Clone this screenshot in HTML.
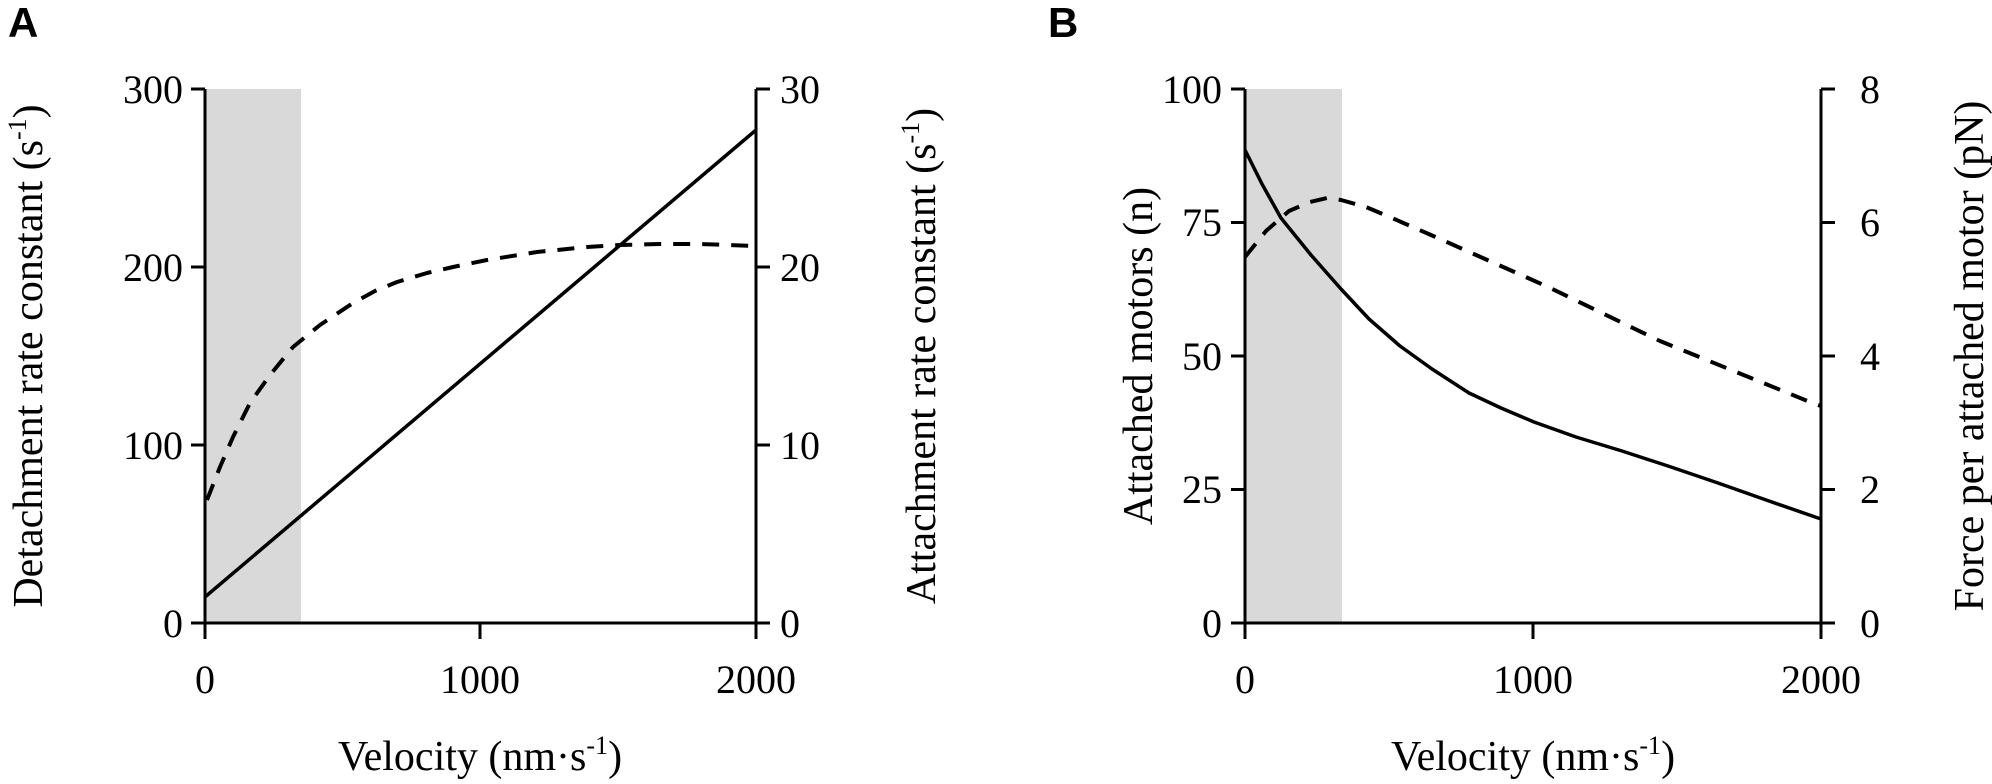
<!DOCTYPE html>
<html><head><meta charset="utf-8"><style>
html,body{margin:0;padding:0;background:#fff;}
svg{display:block;font-family:"Liberation Serif",serif;}
.t{font-size:40px;fill:#000;}
.ti{font-size:42px;fill:#000;}
</style></head><body>
<svg width="1992" height="784" viewBox="0 0 1992 784" xmlns="http://www.w3.org/2000/svg">
<!-- Panel A -->
<text x="8" y="37" font-family="Liberation Sans, sans-serif" font-weight="bold" font-size="42">A</text>
<rect x="205" y="89" width="96" height="534" fill="#d9d9d9"/>
<g stroke="#000" stroke-width="3" fill="none" stroke-linejoin="round">
<line x1="205" y1="89" x2="205" y2="623"/>
<line x1="756" y1="89" x2="756" y2="623"/>
<line x1="191" y1="623" x2="770" y2="623"/>
<line x1="191" y1="89" x2="205" y2="89"/><line x1="191" y1="267" x2="205" y2="267"/><line x1="191" y1="445" x2="205" y2="445"/>
<line x1="756" y1="89" x2="770" y2="89"/><line x1="756" y1="267" x2="770" y2="267"/><line x1="756" y1="445" x2="770" y2="445"/>
<line x1="205" y1="623" x2="205" y2="639"/><line x1="480" y1="623" x2="480" y2="639"/><line x1="756" y1="623" x2="756" y2="639"/>
<line x1="205" y1="597" x2="756" y2="130" stroke-width="3.5"/>
<path d="M207,500 L220,467 L233,437 L250,403 L270,375 L293,347 L320,325 L353,303 L375,291 L397,282 L427,273 L453,267 L487,260 L537,252 L587,247 L620,245 L660,244 L700,244 L756,246" stroke-width="4" stroke-dasharray="17,12"/>
</g>
<g class="t" text-anchor="end">
<text x="183" y="103">300</text><text x="183" y="281">200</text><text x="183" y="459">100</text><text x="183" y="637">0</text>
</g>
<g class="t" text-anchor="start">
<text x="780" y="103">30</text><text x="780" y="281">20</text><text x="780" y="459">10</text><text x="780" y="637">0</text>
</g>
<g class="t" text-anchor="middle">
<text x="205" y="693">0</text><text x="480" y="693">1000</text><text x="756" y="693">2000</text>
</g>
<text class="ti" x="480" y="770" text-anchor="middle">Velocity (nm·s<tspan font-size="26" dy="-16">-1</tspan><tspan dy="16">)</tspan></text>
<text class="ti" transform="translate(42,356) rotate(-90)" text-anchor="middle">Detachment rate constant (s<tspan font-size="26" dy="-16">-1</tspan><tspan dy="16">)</tspan></text>
<text class="ti" transform="translate(935,356) rotate(-90)" text-anchor="middle">Attachment rate constant (s<tspan font-size="26" dy="-16">-1</tspan><tspan dy="16">)</tspan></text>

<!-- Panel B -->
<text x="1048" y="37" font-family="Liberation Sans, sans-serif" font-weight="bold" font-size="42">B</text>
<rect x="1245" y="89" width="97" height="534" fill="#d9d9d9"/>
<g stroke="#000" stroke-width="3" fill="none" stroke-linejoin="round">
<line x1="1245" y1="89" x2="1245" y2="623"/>
<line x1="1821" y1="89" x2="1821" y2="623"/>
<line x1="1231" y1="623" x2="1835" y2="623"/>
<line x1="1231" y1="89" x2="1245" y2="89"/><line x1="1231" y1="222.5" x2="1245" y2="222.5"/><line x1="1231" y1="356" x2="1245" y2="356"/><line x1="1231" y1="489.5" x2="1245" y2="489.5"/>
<line x1="1821" y1="89" x2="1835" y2="89"/><line x1="1821" y1="222.5" x2="1835" y2="222.5"/><line x1="1821" y1="356" x2="1835" y2="356"/><line x1="1821" y1="489.5" x2="1835" y2="489.5"/>
<line x1="1245" y1="623" x2="1245" y2="639"/><line x1="1533" y1="623" x2="1533" y2="639"/><line x1="1821" y1="623" x2="1821" y2="639"/>
<path d="M1245,150 L1262,184 L1281,218 L1311,255 L1341,289 L1369,319 L1400,346 L1432,369 L1469,393 L1501,408 L1534,422 L1576,437 L1622,451 L1671,467 L1718,483 L1769,501 L1821,519" stroke-width="3.5"/>
<path d="M1245,257 L1266,231 L1289,211 L1310,202 L1327,198 L1341,200 L1366,207 L1392,218 L1431,235 L1546,286 L1660,341 L1810,402 L1821,406" stroke-width="4" stroke-dasharray="17,12"/>
</g>
<g class="t" text-anchor="end">
<text x="1222" y="103">100</text><text x="1222" y="236">75</text><text x="1222" y="370">50</text><text x="1222" y="503">25</text><text x="1222" y="637">0</text>
</g>
<g class="t" text-anchor="start">
<text x="1860" y="103">8</text><text x="1860" y="236">6</text><text x="1860" y="370">4</text><text x="1860" y="503">2</text><text x="1860" y="637">0</text>
</g>
<g class="t" text-anchor="middle">
<text x="1245" y="693">0</text><text x="1533" y="693">1000</text><text x="1821" y="693">2000</text>
</g>
<text class="ti" x="1533" y="770" text-anchor="middle">Velocity (nm·s<tspan font-size="26" dy="-16">-1</tspan><tspan dy="16">)</tspan></text>
<text class="ti" transform="translate(1152,356) rotate(-90)" text-anchor="middle">Attached motors (n)</text>
<text class="ti" transform="translate(1983,356) rotate(-90)" text-anchor="middle">Force per attached motor (pN)</text>
</svg>
</body></html>
